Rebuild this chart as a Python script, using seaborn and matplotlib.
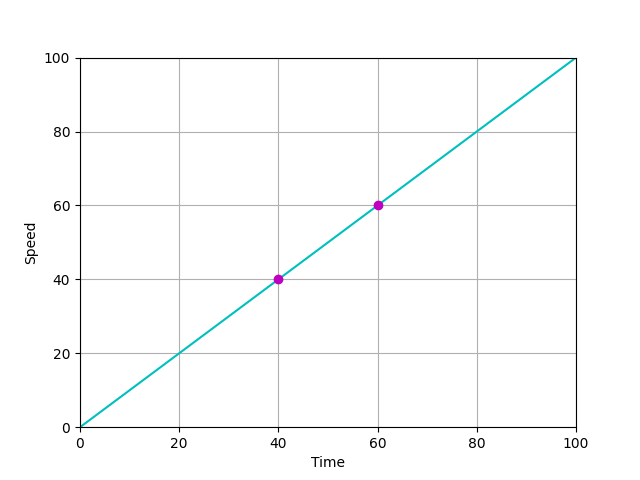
import matplotlib
matplotlib.use("Agg")
import matplotlib.pyplot as plt
import seaborn as sns
import pandas as pd

line_time = [0, 100]
line_speed = [0, 100]
point_time = [40, 60]
point_speed = [40, 60]

fig, ax = plt.subplots(figsize=(6.4, 4.8), dpi=100)
sns.lineplot(x=line_time, y=line_speed, color="c", ax=ax, linewidth=1.5)
sns.scatterplot(x=point_time, y=point_speed, color="m", edgecolor="m",
                s=36, linewidth=1, ax=ax, zorder=3)
ax.set_xlim(0, 100)
ax.set_ylim(0, 100)
ax.set_xlabel("Time")
ax.set_ylabel("Speed")
ax.grid(True)
fig.savefig("out.png", dpi=100)
